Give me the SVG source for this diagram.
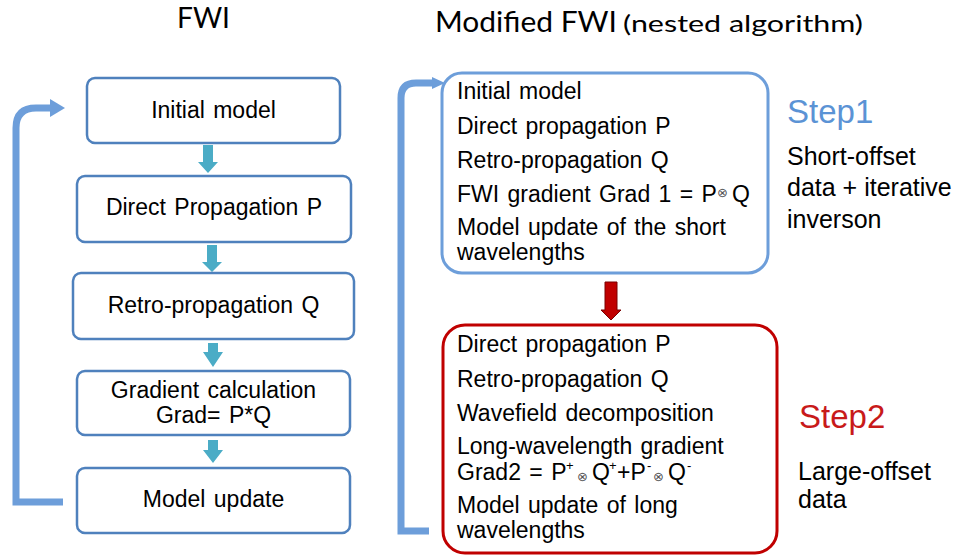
<svg xmlns="http://www.w3.org/2000/svg" width="966" height="555" viewBox="0 0 966 555">
<style>
.box{fill:#fff;stroke:#4f81bd;stroke-width:2.5}
.t{font-family:"Liberation Sans",Arial,sans-serif;font-size:23px;fill:#000;word-spacing:2px}
.c{text-anchor:middle}
.title{font-family:Lato,"Open Sans",sans-serif;fill:#000}
.sym{font-family:"DejaVu Sans",sans-serif;font-size:13px;fill:#555}
.sup{font-size:13px}
.side{font-family:"Liberation Sans",Arial,sans-serif;font-size:25px;fill:#000}
.step{font-family:"Liberation Sans",Arial,sans-serif;font-size:33px}
.cyan{fill:#4bacc6}
.loop{fill:none;stroke:#6d9eda;stroke-width:7}
</style>
<rect width="966" height="555" fill="#fff"/>
<text class="title" x="177" y="28" font-size="28" textLength="53" lengthAdjust="spacingAndGlyphs">FWI</text>
<text class="title" x="435" y="32" font-size="29" textLength="182" lengthAdjust="spacingAndGlyphs">Modified FWI</text>
<text class="title" x="623" y="32" font-size="24" textLength="240" lengthAdjust="spacingAndGlyphs">(nested algorithm)</text>

<g id="connectors">
<path class="loop" d="M 63 502 H 16 V 128 Q 16 108 36 108 H 52"/>
<polygon points="50,99 65,108 50,117" fill="#6d9eda"/>
<path class="loop" stroke-width="6" d="M 429 531 H 401 V 98 Q 401 83 416 83 H 434"/>
<polygon points="432,77 445,83 432,89" fill="#6d9eda"/>
<polygon class="cyan" points="203,145 213,145 213,162 218,162 208,173 198,162 203,162"/>
<polygon class="cyan" points="207,245 217,245 217,262 222,262 212,272 202,262 207,262"/>
<polygon class="cyan" points="208,343 218,343 218,352 223,352 213,367 203,352 208,352"/>
<polygon class="cyan" points="208,440 218,440 218,450 223,450 213,463 203,450 208,450"/>
<polygon points="605,282 617,282 617,310 621,310 611,320 601,310 605,310" fill="#c00000" stroke="#7a0000" stroke-width="1"/>
</g>

<g id="fwi-initial">
<rect class="box" x="87" y="78" width="253" height="65" rx="8"/>
<text class="t c" x="213.5" y="118">Initial model</text>
</g>
<g id="fwi-direct">
<rect class="box" x="77" y="176" width="274" height="66" rx="8"/>
<text class="t c" x="214" y="215">Direct Propagation P</text>
</g>
<g id="fwi-retro">
<rect class="box" x="73" y="273" width="281" height="66" rx="8"/>
<text class="t c" x="213.5" y="313">Retro-propagation Q</text>
</g>
<g id="fwi-gradient">
<rect class="box" x="77" y="371" width="273" height="64" rx="8"/>
<text class="t c" x="213.5" y="398">Gradient calculation</text>
<text class="t c" x="213.5" y="423">Grad= P*Q</text>
</g>
<g id="fwi-update">
<rect class="box" x="77" y="468" width="273" height="65" rx="8"/>
<text class="t c" x="213.5" y="507">Model update</text>
</g>

<g id="step1-box">
<rect x="442" y="73" width="326" height="200" rx="20" fill="#fff" stroke="#6d9eda" stroke-width="3"/>
<text class="t" x="457" y="99">Initial model</text>
<text class="t" x="457" y="134">Direct propagation P</text>
<text class="t" x="457" y="168">Retro-propagation Q</text>
<text class="t" x="457" y="202">FWI gradient Grad 1 = P<tspan class="sym" x="717" y="197">⊗</tspan><tspan x="732" y="202">Q</tspan></text>
<text class="t" x="457" y="235">Model update of the short</text>
<text class="t" x="457" y="260">wavelengths</text>
</g>

<g id="step2-box">
<rect x="443" y="325" width="334" height="228" rx="22" fill="#fff" stroke="#c00000" stroke-width="3"/>
<text class="t" x="457" y="352">Direct propagation P</text>
<text class="t" x="457" y="387">Retro-propagation Q</text>
<text class="t" x="457" y="421">Wavefield decomposition</text>
<text class="t" x="457" y="454">Long-wavelength gradient</text>
<text class="t" x="457" y="480">Grad2 = P<tspan class="sup" x="566" y="470">+</tspan><tspan class="sym" x="577" y="481">⊗</tspan><tspan x="592" y="480">Q</tspan><tspan class="sup" x="609" y="470">+</tspan><tspan x="617" y="480">+P</tspan><tspan class="sup" x="647" y="470">-</tspan><tspan class="sym" x="653" y="481">⊗</tspan><tspan x="668" y="480">Q</tspan><tspan class="sup" x="687" y="470">-</tspan></text>
<text class="t" x="457" y="513">Model update of long</text>
<text class="t" x="457" y="538">wavelengths</text>
</g>

<g id="step1-label">
<text class="step" x="787" y="123" fill="#5b93d5">Step1</text>
<text class="side" x="787" y="165" font-size="26">Short-offset</text>
<text class="side" x="787" y="196" font-size="26">data + iterative</text>
<text class="side" x="787" y="228" font-size="26">inverson</text>
</g>
<g id="step2-label">
<text class="step" x="799" y="428" fill="#c81a1a">Step2</text>
<text class="side" x="798" y="480">Large-offset</text>
<text class="side" x="798" y="508">data</text>
</g>
</svg>
